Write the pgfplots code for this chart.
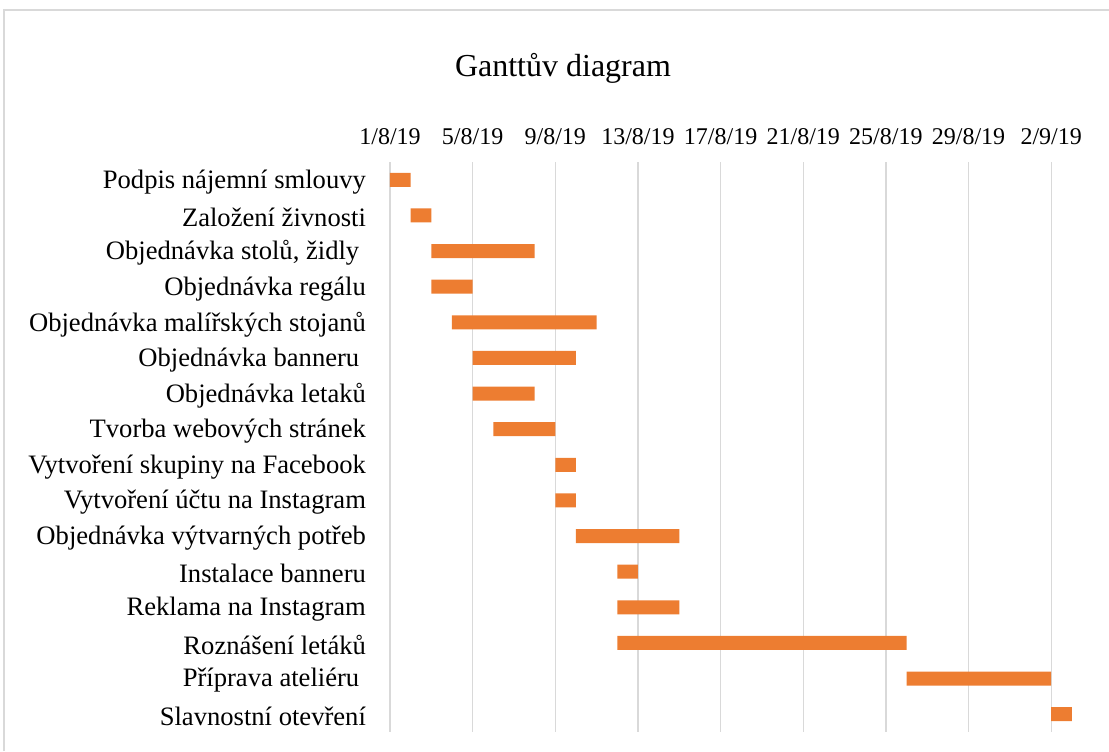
\documentclass[border=0pt]{standalone}
\usepackage{pgfplots}
\pgfplotsset{compat=1.18}
\usepackage{fontspec}
\setmainfont{Liberation Serif}
\definecolor{barorange}{HTML}{ED7D31}
\definecolor{gridgray}{HTML}{D9D9D9}
\begin{document}
\begin{tikzpicture}
\path[use as bounding box] (0,0) rectangle (554.5pt,375.5pt);
\draw[gridgray, line width=1pt] (2pt,0) -- (2pt,370.5pt) -- (554.5pt,370.5pt);
\node[font=\fontsize{16pt}{19pt}\selectfont, anchor=center] at (281.5pt,341.5pt) {Ganttův diagram};
\begin{axis}[
  at={(195pt,9.5pt)}, anchor=south west,
  scale only axis,
  width=343pt, height=285pt,
  xbar stacked,
  bar width=7pt,
  xmin=0, xmax=33.2,
  ymin=-0.5, ymax=15.5,
  y dir=reverse,
  enlargelimits=false,
  axis line style={draw=none},
  major tick length=0pt,
  xticklabel pos=top,
  xtick={0,4,...,32},
  xticklabels={1/8/19,5/8/19,9/8/19,13/8/19,17/8/19,21/8/19,25/8/19,29/8/19,2/9/19},
  ytick={0,...,15},
  yticklabels={Podpis nájemní smlouvy,Založení živnosti,{Objednávka stolů, židly\kern0.25em},Objednávka regálu,Objednávka malířských stojanů,{Objednávka banneru\kern0.25em},Objednávka letaků,Tvorba webových stránek,Vytvoření skupiny na Facebook,Vytvoření účtu na Instagram,Objednávka výtvarných potřeb,Instalace banneru,Reklama na Instagram,Roznášení letáků,{Příprava ateliéru\kern0.25em},Slavnostní otevření},
  xmajorgrids,
  grid style={gridgray, line width=0.7pt},
  xticklabel style={font=\fontsize{12pt}{14pt}\selectfont, yshift=5pt},
  yticklabel style={font=\fontsize{13.3pt}{15pt}\selectfont, xshift=-8.5pt, yshift=-1pt},
  /pgf/number format/assume math mode=true,
]
\addplot[draw=none, fill=none] coordinates {
(0,0) (1,1) (2,2) (2,3) (3,4) (4,5) (4,6) (5,7) (8,8) (8,9) (9,10) (11,11) (11,12) (11,13) (25,14) (32,15)};
\addplot[fill=barorange, draw=none] coordinates {
(1,0) (1,1) (5,2) (2,3) (7,4) (5,5) (3,6) (3,7) (1,8) (1,9) (5,10) (1,11) (3,12) (14,13) (7,14) (1,15)};
\end{axis}
\end{tikzpicture}
\end{document}
